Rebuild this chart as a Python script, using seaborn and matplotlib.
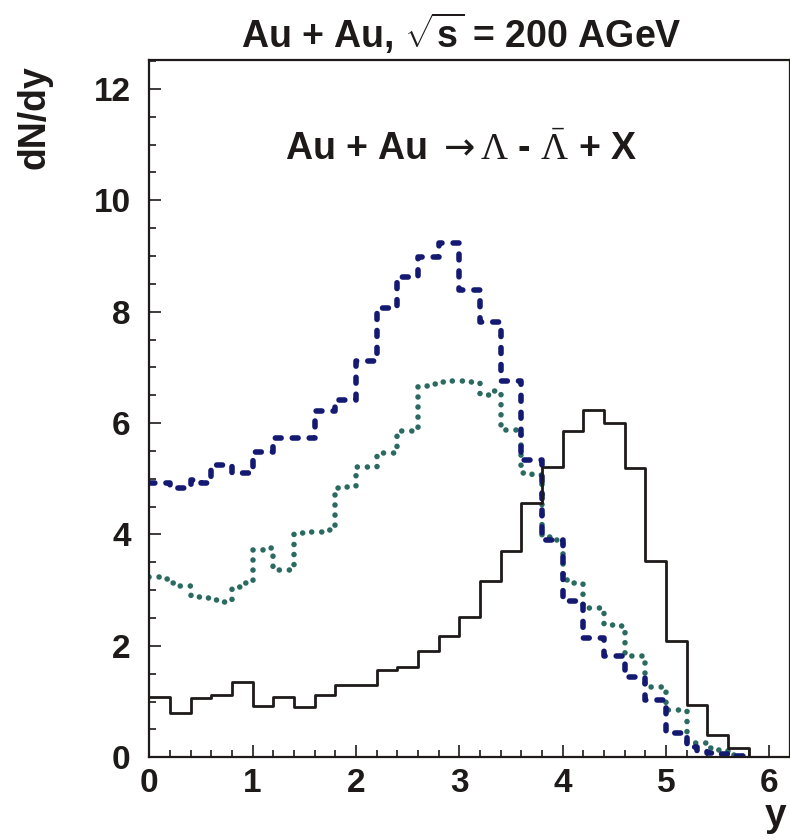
import numpy as np
import pandas as pd
import matplotlib
matplotlib.use("Agg")
import matplotlib.pyplot as plt
from matplotlib.ticker import MultipleLocator
import seaborn as sns

# ---- data: dN/dy of Lambda minus anti-Lambda versus rapidity y ----
# coarse histogram (0.2 wide bins, 0 .. 6.0)
coarse_edges = np.round(np.arange(0, 6.01, 0.2), 2)
solid_vals = [1.09, 0.79, 1.06, 1.12, 1.36, 0.92, 1.09, 0.90, 1.12, 1.30,
              1.30, 1.57, 1.62, 1.91, 2.18, 2.51, 3.17, 3.71, 4.57, 5.21,
              5.85, 6.24, 6.01, 5.19, 3.53, 2.08, 0.94, 0.40, 0.16, 0.00]

# fine histograms (0.1 wide bins, 0 .. 5.8)
fine_edges = np.round(np.arange(0, 5.81, 0.1), 2)
dashed_vals = [4.92, 4.92, 4.83, 4.83, 4.98, 4.92, 5.24, 5.24, 5.10, 5.10,
               5.49, 5.49, 5.73, 5.73, 5.73, 5.73, 6.21, 6.21, 6.41, 6.41,
               7.11, 7.11, 8.07, 8.07, 8.63, 8.63, 8.98, 8.98, 9.24, 9.24,
               8.39, 8.39, 7.82, 7.82, 6.75, 6.75, 5.34, 5.34, 3.90, 3.90,
               2.80, 2.80, 2.14, 2.14, 1.81, 1.81, 1.45, 1.45, 1.03, 1.03,
               0.44, 0.44, 0.19, 0.12, 0.08, 0.05, 0.02, 0.02]
dotted_vals = [3.24, 3.20, 3.13, 3.08, 2.88, 2.86, 2.83, 2.78, 3.06, 3.13,
               3.72, 3.75, 3.36, 3.36, 4.02, 4.05, 4.05, 4.08, 4.84, 4.86,
               5.21, 5.21, 5.46, 5.46, 5.85, 5.85, 6.66, 6.71, 6.74, 6.76,
               6.76, 6.74, 6.51, 6.57, 5.88, 5.88, 5.10, 5.07, 3.96, 3.90,
               3.18, 3.13, 2.68, 2.68, 2.38, 2.35, 1.81, 1.81, 1.27, 1.27,
               0.85, 0.85, 0.26, 0.26, 0.17, 0.13, 0.04, 0.03]

title_text = r"Au + Au, $\sqrt{\mathbf{s}}$ = 200 AGeV"
reaction_text = r"Au + Au $\mathsf{\rightarrow}\Lambda$ - $\bar{\Lambda}$ + X"
x_label = "y"
y_label = "dN/dy"

INK = "#1e1a1a"
DASH_COLOR = "#141a72"
DOT_COLOR = "#2a6a60"


def centers(edges):
    return (edges[:-1] + edges[1:]) / 2


coarse_df = pd.DataFrame({"y": centers(coarse_edges), "dndy": solid_vals})
dashed_df = pd.DataFrame({"y": centers(fine_edges), "dndy": dashed_vals})
dotted_df = pd.DataFrame({"y": centers(fine_edges), "dndy": dotted_vals})

# ---- style ----
sns.set_style("ticks")
plt.rcParams["font.family"] = ["Liberation Sans", "DejaVu Sans"]
plt.rcParams["font.weight"] = "bold"
plt.rcParams["mathtext.fontset"] = "custom"
plt.rcParams["mathtext.rm"] = "Liberation Serif:weight=normal"
plt.rcParams["mathtext.bf"] = "Liberation Sans:bold"
plt.rcParams["mathtext.it"] = "Liberation Serif:italic:weight=normal"
plt.rcParams["mathtext.sf"] = "DejaVu Sans:weight=normal"
plt.rcParams["text.color"] = INK
plt.rcParams["axes.edgecolor"] = INK

fig = plt.figure(figsize=(7.9, 8.4), dpi=100)
ax = fig.add_axes([0.189, 0.0985, 0.8108, 0.8301])

sns.histplot(data=dotted_df, x="y", weights="dndy", bins=list(fine_edges),
             element="step", fill=False, color=DOT_COLOR, linewidth=4.0,
             linestyle=(0, (0.01, 1.8)), dash_capstyle="round", ax=ax)
sns.histplot(data=dashed_df, x="y", weights="dndy", bins=list(fine_edges),
             element="step", fill=False, color=DASH_COLOR, linewidth=4.0,
             linestyle=(0, (1.05, 2.0)), dash_capstyle="round", ax=ax)
sns.histplot(data=coarse_df, x="y", weights="dndy", bins=list(coarse_edges),
             element="step", fill=False, color=INK, linewidth=2.0, ax=ax)

ax.set_xlim(0, 6.2)
ax.set_ylim(0, 12.52)
ax.set_xlabel("")
ax.set_ylabel("")

ax.xaxis.set_major_locator(MultipleLocator(1))
ax.xaxis.set_minor_locator(MultipleLocator(0.2))
ax.yaxis.set_major_locator(MultipleLocator(2))
ax.yaxis.set_minor_locator(MultipleLocator(0.5))

for side in ["left", "right", "top", "bottom"]:
    ax.spines[side].set_visible(True)
    ax.spines[side].set_linewidth(1.6)
    ax.spines[side].set_color(INK)

ax.tick_params(which="both", direction="in", top=False, right=False,
               width=1.2, color=INK, labelcolor=INK, labelsize=24)
ax.tick_params(which="major", length=8.5)
ax.tick_params(which="minor", length=5)
ax.tick_params(axis="x", which="major", pad=8)
ax.tick_params(axis="y", which="major", pad=13.5)
for lab in ax.get_xticklabels() + ax.get_yticklabels():
    lab.set_fontweight("bold")

# titles and labels
fig.text(461.5 / 790, 1 - 48.3 / 840, title_text, ha="center",
         va="baseline", fontsize=27, fontweight="bold")
ax.text(3.02, 10.73, reaction_text, ha="center", va="baseline",
        fontsize=27, fontweight="bold")
fig.text(35 / 790, 1 - 117 / 840, y_label, rotation=90, ha="center",
         va="center", fontsize=27, fontweight="bold")
fig.text(776 / 790, 1 - 826 / 840, x_label, ha="center", va="baseline",
         fontsize=28, fontweight="bold")

fig.savefig("out.png", dpi=100)
